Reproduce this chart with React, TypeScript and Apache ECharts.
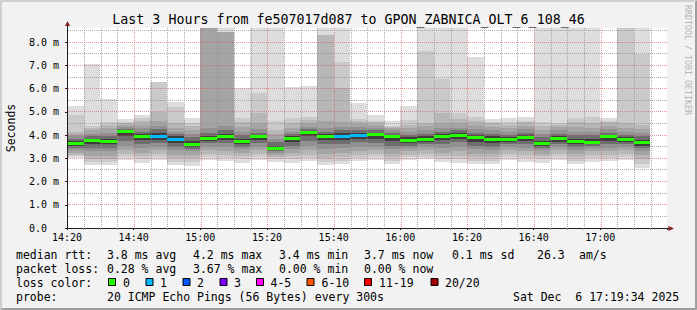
import React, { useEffect, useRef } from "react";
import * as echarts from "echarts";

// ---- time axis (minutes after 14:20) ----
const startMinute = 14 * 60 + 20;
const stepMinutes = 5;
const labelEveryMinutes = 20;
const axisSpanMinutes = 180;
const yMax = 8.61;
const yMajorStep = 1;
const yMinorStep = 0.5;

// ---- smoke bands (ms), outermost (1) to innermost (7) ----
const lo1 = [3.0,2.73,2.73,2.94,2.8,2.94,2.73,2.66,2.94,2.9,2.81,2.93,2.86,2.79,2.9,2.71,2.75,2.9,2.93,2.74,2.93,2.95,2.85,2.8,2.75,2.75,2.93,2.85,2.8,2.92,2.75,2.85,2.88,2.92,2.57];
const lo2 = [3.08,2.85,2.85,3.05,2.95,3.05,2.85,2.85,3.05,3.0,2.95,3.05,2.95,2.95,3.0,2.85,2.9,3.0,3.05,2.9,3.05,3.05,2.95,2.95,2.9,2.9,3.05,3.0,2.95,3.05,2.9,3.0,3.0,3.05,2.75];
const lo3 = [3.15,2.95,2.95,3.2,3.1,3.2,3.0,3.0,3.2,3.15,3.1,3.2,3.05,3.1,3.15,3.0,3.05,3.15,3.2,3.05,3.15,3.2,3.1,3.1,3.05,3.05,3.2,3.15,3.1,3.2,3.05,3.15,3.15,3.2,2.95];
const lo4 = [3.25,3.1,3.1,3.35,3.25,3.35,3.15,3.15,3.35,3.3,3.25,3.35,3.15,3.25,3.35,3.2,3.25,3.3,3.35,3.2,3.3,3.35,3.25,3.3,3.2,3.2,3.35,3.3,3.2,3.35,3.2,3.3,3.3,3.35,3.15];
const lo5 = [3.35,3.3,3.3,3.55,3.45,3.5,3.35,3.3,3.5,3.5,3.4,3.5,3.25,3.4,3.55,3.4,3.45,3.5,3.5,3.4,3.45,3.5,3.45,3.5,3.4,3.35,3.5,3.45,3.35,3.5,3.35,3.45,3.45,3.5,3.3];
const lo6 = [3.45,3.45,3.45,3.75,3.6,3.65,3.5,3.4,3.65,3.65,3.5,3.65,3.3,3.55,3.75,3.6,3.6,3.7,3.65,3.55,3.55,3.6,3.6,3.7,3.55,3.5,3.6,3.6,3.45,3.6,3.5,3.55,3.6,3.6,3.45];
const lo7 = [3.55,3.6,3.6,3.95,3.8,3.8,3.65,3.5,3.75,3.8,3.6,3.8,3.38,3.7,3.95,3.8,3.8,3.85,3.85,3.75,3.65,3.7,3.8,3.85,3.7,3.65,3.7,3.75,3.55,3.72,3.6,3.65,3.75,3.7,3.55];
const hi7 = [3.75,3.85,3.85,4.2,4.05,4.1,3.95,3.75,3.95,4.05,3.85,4.0,3.55,3.95,4.15,4.05,4.1,4.1,4.1,4.0,3.9,3.95,4.05,4.1,4.0,3.95,3.9,4.0,3.75,3.95,3.85,3.85,4.0,3.9,3.8];
const hi6 = [3.85,3.95,3.95,4.28,4.15,4.25,4.05,3.9,4.1,4.2,4.0,4.1,3.7,4.05,4.25,4.15,4.2,4.2,4.2,4.1,4.0,4.05,4.15,4.2,4.1,4.05,4.0,4.1,3.9,4.05,4.0,4.0,4.1,4.0,3.95];
const hi5 = [3.95,4.05,4.1,4.35,4.3,4.4,4.15,4.05,4.3,4.39,4.15,4.25,3.85,4.15,4.35,4.3,4.35,4.35,4.3,4.2,4.15,4.2,4.3,4.3,4.25,4.2,4.15,4.25,4.05,4.2,4.15,4.15,4.25,4.15,4.1];
const hi4 = [4.05,4.2,4.3,4.45,4.45,4.6,4.3,4.2,9.5,8.44,4.35,4.5,4.05,4.3,4.5,4.6,4.58,4.5,4.45,4.3,4.3,4.4,4.5,4.5,4.45,4.35,4.3,4.4,4.2,4.35,4.35,4.3,4.4,4.3,4.25];
const hi3 = [4.15,4.3,4.45,4.5,4.6,5.0,4.5,4.4,9.5,8.44,4.55,4.95,4.2,4.5,4.65,8.31,6.03,4.6,4.55,4.35,4.45,4.52,4.95,4.7,4.6,4.5,4.45,4.55,4.4,4.45,4.55,4.5,4.55,4.52,4.43];
const hi2 = [4.87,4.4,4.58,4.55,4.72,6.29,5.2,4.5,9.5,8.44,4.74,5.83,4.6,4.74,4.8,8.31,7.15,4.69,4.6,4.4,4.65,7.62,6.42,4.95,4.8,4.55,4.55,4.6,4.58,4.5,4.72,4.77,4.6,9.5,7.49];
const hi1 = [5.25,7.06,5.56,4.69,4.87,6.3,5.43,4.74,9.5,9.5,6.02,9.5,9.5,6.08,6.1,9.5,9.5,5.4,4.87,4.61,5.25,9.5,9.5,9.5,7.38,4.69,4.72,4.8,9.5,9.5,9.5,9.5,4.72,9.5,9.5];

const median = [3.65,3.75,3.73,4.15,3.96,3.96,3.82,3.6,3.85,3.92,3.73,3.92,3.43,3.85,4.09,3.96,3.96,4.0,4.02,3.92,3.78,3.82,3.96,4.0,3.88,3.8,3.8,3.9,3.62,3.85,3.73,3.7,3.92,3.8,3.67];
const lossCount = [0,0,0,0,0,1,1,0,0,0,0,0,0,0,0,0,1,1,0,0,0,0,0,0,0,0,0,0,0,0,0,0,0,0,0];

const bandColors = ["#dddddd", "#cacaca", "#b7b7b7", "#a4a4a4", "#919191", "#6e6e6e", "#3e3e3e"];

const lossLabels = ["0", "1", "2", "3", "4-5", "6-10", "11-19", "20/20"];
const lossColors = ["#26ff00", "#00b8ff", "#0059ff", "#7e00ff", "#ff00ff", "#ff5500", "#ff0000", "#a10000"];

const titleText = "Last 3 Hours from fe507017d087 to GPON_ZABNICA_OLT_6_108_46";
const yAxisTitle = "Seconds";
const watermark = "RRDTOOL / TOBI OETIKER";
const rttRow = ["median rtt:", "3.8 ms avg", "4.2 ms max", "3.4 ms min", "3.7 ms now", "0.1 ms sd", "26.3", "am/s"];
const lossRow = ["packet loss:", "0.28 % avg", "3.67 % max", "0.00 % min", "0.00 % now"];
const probeRow = ["probe:", "20 ICMP Echo Pings (56 Bytes) every 300s"];
const dateText = "Sat Dec  6 17:19:34 2025";

const MONO = '"DejaVu Sans Mono", monospace';

function lossIndex(n: number) {
  if (n <= 3) return n;
  if (n <= 5) return 4;
  if (n <= 10) return 5;
  if (n < 20) return 6;
  return 7;
}

function fmtTime(v: number) {
  const t = startMinute + v;
  const h = Math.floor(t / 60);
  const m = t % 60;
  return `${h}:${m < 10 ? "0" : ""}${m}`;
}

export default function App() {
  const ref = useRef<HTMLDivElement>(null);
  useEffect(() => {
    if (!ref.current) return;
    const chart = echarts.init(ref.current, undefined, { renderer: "svg" });
    const major = "rgba(222,79,79,0.6)";
    const minor = "rgba(143,143,143,0.75)";

    const bands = [
      [lo1, hi1], [lo2, hi2], [lo3, hi3], [lo4, hi4], [lo5, hi5], [lo6, hi6], [lo7, hi7],
    ];
    const bandSeries = bands.map(([lo, hi], k) => ({
      type: "custom",
      name: `band${k + 1}`,
      silent: true,
      z: 2,
      data: lo.map((l, i) => [i * stepMinutes, (i + 1) * stepMinutes, l, hi[i]]),
      encode: { x: [0, 1], y: [2, 3] },
      renderItem: (params: any, api: any) => {
        const a = api.coord([api.value(0), api.value(3)]);
        const b = api.coord([api.value(1), api.value(2)]);
        const cs = params.coordSys;
        const x0 = Math.round(a[0]);
        const x1 = Math.round(b[0]);
        const y0 = Math.round(a[1]);
        const y1 = Math.round(b[1]);
        const shape = echarts.graphic.clipRectByRect(
          { x: x0, y: y0, width: x1 - x0, height: y1 - y0 },
          { x: cs.x, y: cs.y, width: cs.width, height: cs.height }
        );
        if (!shape) return null;
        return { type: "rect", shape, style: { fill: bandColors[k] } };
      },
    }));

    // grid lines (drawn over the smoke, crisp on pixel centres)
    const hGrid: number[][] = [];
    for (let v = yMinorStep; v < yMax; v += yMinorStep) {
      const isMajor = Math.abs(v / yMajorStep - Math.round(v / yMajorStep)) < 1e-6 ? 1 : 0;
      hGrid.push([Math.round(v * 100) / 100, isMajor]);
    }
    const vGrid: number[][] = [];
    for (let m = stepMinutes; m < axisSpanMinutes; m += stepMinutes) {
      vGrid.push([m, m % labelEveryMinutes === 0 ? 1 : 0]);
    }
    const hGridSeries = {
      type: "custom",
      name: "hgrid",
      silent: true,
      z: 3,
      data: hGrid,
      encode: { y: 0 },
      renderItem: (params: any, api: any) => {
        const cs = params.coordSys;
        const p = api.coord([0, api.value(0)]);
        const y = Math.floor(p[1]) + 0.5;
        return {
          type: "line",
          shape: { x1: cs.x + 1, y1: y, x2: cs.x + cs.width, y2: y },
          style: { stroke: api.value(1) ? major : minor, lineWidth: 1, lineDash: [1, 1] },
        };
      },
    };
    const vGridSeries = {
      type: "custom",
      name: "vgrid",
      silent: true,
      z: 3,
      data: vGrid,
      encode: { x: 0 },
      renderItem: (params: any, api: any) => {
        const cs = params.coordSys;
        const p = api.coord([api.value(0), 0]);
        const x = Math.ceil(p[0]) + 0.5;
        return {
          type: "line",
          shape: { x1: x, y1: cs.y, x2: x, y2: cs.y + cs.height },
          style: { stroke: api.value(1) ? major : minor, lineWidth: 1, lineDash: [1, 1] },
        };
      },
    };

    const medianSeries = {
      type: "custom",
      name: "median",
      silent: true,
      z: 4,
      data: median.map((m, i) => [i * stepMinutes, (i + 1) * stepMinutes, m, lossCount[i]]),
      encode: { x: [0, 1], y: 2 },
      renderItem: (params: any, api: any) => {
        const a = api.coord([api.value(0), api.value(2)]);
        const b = api.coord([api.value(1), api.value(2)]);
        const x0 = Math.round(a[0]);
        const x1 = Math.round(b[0]);
        return {
          type: "rect",
          shape: { x: x0, y: Math.round(a[1] - 1.5), width: x1 - x0, height: 3 },
          style: { fill: lossColors[lossIndex(api.value(3))] },
        };
      },
    };

    const txt = (x: number, y: number, text: string, extra: any = {}) => ({
      type: "text",
      x,
      y,
      silent: true,
      style: { text, fill: "#000", font: `11.5px ${MONO}`, verticalAlign: "middle", align: "left", ...extra },
    });
    const statX = [16, 107, 193, 279, 364, 452, 537, 579];
    const rowY = [255, 268.5, 282.5, 296.5];
    const legendBoxX = [108, 145.5, 182.5, 219.5, 256, 306.5, 364, 430.5];
    const legendTextX = [123, 160, 197, 234, 270.5, 321.5, 379, 445];

    const graphics: any[] = [
      { type: "polygon", silent: true, shape: { points: [[0, 0], [697, 0], [695, 2], [2, 2]] }, style: { fill: "#cfcfcf" } },
      { type: "polygon", silent: true, shape: { points: [[0, 0], [2, 2], [2, 308], [0, 310]] }, style: { fill: "#cfcfcf" } },
      { type: "polygon", silent: true, shape: { points: [[0, 310], [2, 308], [695, 308], [697, 310]] }, style: { fill: "#9e9e9e" } },
      { type: "polygon", silent: true, shape: { points: [[697, 0], [697, 310], [695, 308], [695, 2]] }, style: { fill: "#9e9e9e" } },
      { type: "text", x: 348.5, y: 19, silent: true, style: { text: titleText, fill: "#000", font: `13.3px ${MONO}`, align: "center", verticalAlign: "middle" } },
      { type: "text", x: 11, y: 128, rotation: Math.PI / 2, silent: true, style: { text: yAxisTitle, fill: "#000", font: `11.5px ${MONO}`, align: "center", verticalAlign: "middle" } },
      { type: "text", x: 688, y: 60, rotation: -Math.PI / 2, silent: true, style: { text: watermark, fill: "#b4b4b4", font: `8.3px ${MONO}`, align: "center", verticalAlign: "middle" } },
      { type: "line", silent: true, shape: { x1: 67.5, y1: 28, x2: 67.5, y2: 25 }, style: { stroke: "#1f1f1f", lineWidth: 1 } },
      { type: "polygon", silent: true, shape: { points: [[67.5, 21], [65, 26], [70, 26]] }, style: { fill: "#7f1f1f" } },
      { type: "line", silent: true, shape: { x1: 667, y1: 228.5, x2: 669, y2: 228.5 }, style: { stroke: "#1f1f1f", lineWidth: 1 } },
      { type: "polygon", silent: true, shape: { points: [[674, 228.5], [668.5, 226], [668.5, 231]] }, style: { fill: "#7f1f1f" } },
    ];
    rttRow.forEach((t, i) => graphics.push(txt(statX[i], rowY[0], t)));
    lossRow.forEach((t, i) => graphics.push(txt(statX[i], rowY[1], t)));
    graphics.push(txt(statX[0], rowY[2], "loss color:"));
    lossLabels.forEach((t, i) => {
      graphics.push({
        type: "rect",
        silent: true,
        shape: { x: legendBoxX[i] + 0.5, y: rowY[2] - 4, width: 7, height: 7 },
        style: { fill: lossColors[i], stroke: "#000", lineWidth: 1 },
      });
      graphics.push(txt(legendTextX[i], rowY[2], t));
    });
    probeRow.forEach((t, i) => graphics.push(txt(statX[i], rowY[3], t)));
    graphics.push(txt(513, rowY[3], dateText));

    chart.setOption({
      animation: false,
      backgroundColor: "#f2f2f2",
      grid: {
        left: 67,
        top: 28,
        right: 30,
        bottom: 82,
        show: true,
        backgroundColor: "#ffffff",
        borderWidth: 0,
      },
      xAxis: {
        type: "value",
        min: 0,
        max: axisSpanMinutes,
        interval: labelEveryMinutes,
        z: 10,
        axisLine: { show: true, onZero: false, lineStyle: { color: "#1f1f1f", width: 1 } },
        axisTick: { show: true, length: 2, lineStyle: { color: "#1f1f1f" } },
        minorTick: { show: true, splitNumber: 4, length: 2, lineStyle: { color: "#8f8f8f" } },
        axisLabel: {
          margin: 4,
          color: "#000",
          fontFamily: MONO,
          fontSize: 10,
          showMaxLabel: false,
          formatter: (v: number) => (v < axisSpanMinutes ? fmtTime(v) : ""),
        },
        splitLine: { show: false },
      },
      yAxis: {
        type: "value",
        min: 0,
        max: yMax,
        interval: yMajorStep,
        z: 10,
        axisLine: { show: true, onZero: false, lineStyle: { color: "#1f1f1f", width: 1 } },
        axisTick: { show: true, length: 2, lineStyle: { color: "#1f1f1f" } },
        axisLabel: {
          margin: 38,
          align: "left",
          color: "#000",
          fontFamily: MONO,
          fontSize: 10,
          showMaxLabel: false,
          formatter: (v: number) => {
            if (Math.abs(v - Math.round(v)) > 1e-6) return "";
            return v === 0 ? "0.0" : `${v.toFixed(1)} m`;
          },
        },
        splitLine: { show: false },
      },
      graphic: graphics,
      series: [...bandSeries, hGridSeries, vGridSeries, medianSeries],
    } as any);
    return () => chart.dispose();
  }, []);
  return (
    <div
      ref={ref}
      style={{ position: "fixed", left: 0, top: 0, width: 697, height: 310 }}
    />
  );
}
